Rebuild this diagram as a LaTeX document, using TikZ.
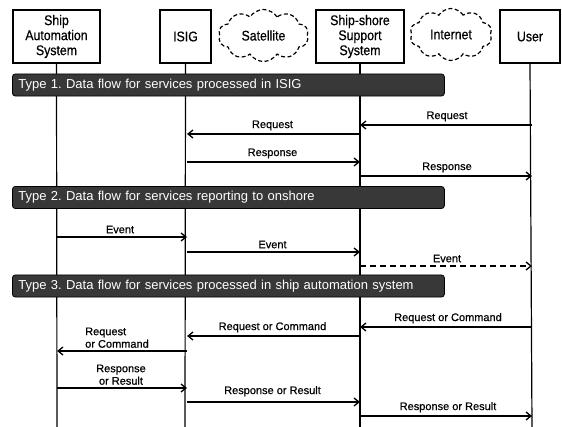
\documentclass[tikz,border=0pt]{standalone}
\usepackage{fontspec}
\setmainfont{Liberation Sans}[FakeBold=0.6]
\newfontfamily\boxfont[FakeStretch=0.88,FakeBold=0.6]{Liberation Sans}
\newfontfamily\bannerfont{Liberation Sans}
\usetikzlibrary{arrows.meta,shapes.symbols}
\frenchspacing
\begin{document}
\begin{tikzpicture}[x=1pt,y=-1pt,
  actor/.style={draw,line width=1.2pt,fill=white,minimum height=53pt,align=center,font=\boxfont\fontsize{14}{15}\selectfont,inner sep=2pt},
  netcloud/.style={cloud,cloud puffs=10,cloud puff arc=115,aspect=1.6,draw,dash pattern=on 4pt off 2.5pt,line width=1.2pt,font=\boxfont\fontsize{14}{15}\selectfont,inner sep=0pt},
  life/.style={line width=1.2pt},
  banner/.style={draw=black,fill=black!78,rounded corners=3pt,line width=0.8pt,minimum height=20pt,minimum width=432pt,text=white,anchor=west,font=\bannerfont\fontsize{13}{14}\selectfont,text width=420pt,inner sep=5pt},
  msg/.style={line width=1.3pt,-{Straight Barb[length=5pt,width=8pt,line width=1.3pt]}},
  lbl/.style={font=\fontsize{11}{12.5}\selectfont,inner sep=1pt,align=center}]
\useasboundingbox (0,0) rectangle (562,427);
% actors
\node[actor,minimum width=87pt] (sas) at (56.5,36.5) {Ship\\Automation\\System};
\node[actor,minimum width=51pt] (isig) at (185.5,36.5) {ISIG};
\node[actor,minimum width=88pt] (sss) at (360,36.5) {Ship-shore\\Support\\System};
\node[actor,minimum width=60pt] (user) at (530,36.5) {User};
\node[netcloud,minimum width=90pt,minimum height=52pt] (sat) at (263.5,35.5) {Satellite};
\node[netcloud,minimum width=82pt,minimum height=52pt] (net) at (451,34.5) {Internet};
% lifelines
\coordinate (sasE) at (57,427);
\coordinate (isigE) at (185,427);
\coordinate (sssE) at (360,427);
\coordinate (userE) at (532,427);
\draw[life] (sas.south) -- (sasE);
\draw[life] (isig.south) -- (isigE);
\draw[life] (sss.south) -- (sssE);
\draw[life] (user.south) -- (userE);
% banners
\node[banner] (b1) at (12,85) {Type 1. Data flow for services processed in ISIG};
\node[banner] (b2) at (12,197.5) {Type 2. Data flow for services reporting to onshore};
\node[banner] (b3) at (12,286) {Type 3. Data flow for services processed in ship automation system};
% message endpoints
\foreach \n/\y in {1/125,2/134,3/162,4/176,5/237,6/252,7/266,8/327,9/336,10/351,11/388,12/402,13/416}{
  \coordinate (a\n) at (57,\y);
  \coordinate (i\n) at (187,\y);
  \coordinate (s\n) at (360,\y);
  \coordinate (u\n) at (532,\y);
}
% Type 1
\draw[msg] (u1) -- node[lbl,above=2pt,xshift=1pt] (l1) {Request} (s1);
\draw[msg] (s2) -- node[lbl,above=2pt,xshift=-1pt] (l2) {Request} (i2);
\draw[msg] (i3) -- node[lbl,above=2pt,xshift=-1pt] (l3) {Response} (s3);
\draw[msg] (s4) -- node[lbl,above=2pt,xshift=1pt] (l4) {Response} (u4);
% Type 2
\draw[msg] (a5) -- node[lbl,above=2pt,xshift=-2pt] (l5) {Event} (i5);
\draw[msg] (i6) -- node[lbl,above=2pt,xshift=-1pt] (l6) {Event} (s6);
\draw[msg,dash pattern=on 6pt off 4pt] (s7) -- node[lbl,above=2pt,xshift=1pt] (l7) {Event} (u7);
% Type 3
\draw[msg] (u8) -- node[lbl,above=2pt,xshift=2pt] (l8) {Request or Command} (s8);
\draw[msg] (s9) -- node[lbl,above=2pt,xshift=-1pt] (l9) {Request or Command} (i9);
\draw[msg] (i10) -- (a10);
\node[lbl,align=left,anchor=south west] (l10) at (84,349) {Request\\or Command};
\draw[msg] (a11) -- (i11);
\node[lbl,anchor=south] (l11) at (121,386) {Response\\or Result};
\draw[msg] (i12) -- node[lbl,above=4pt,xshift=-1pt] (l12) {Response or Result} (s12);
\draw[msg] (s13) -- node[lbl,above=2pt,xshift=2pt] (l13) {Response or Result} (u13);
\end{tikzpicture}
\end{document}
